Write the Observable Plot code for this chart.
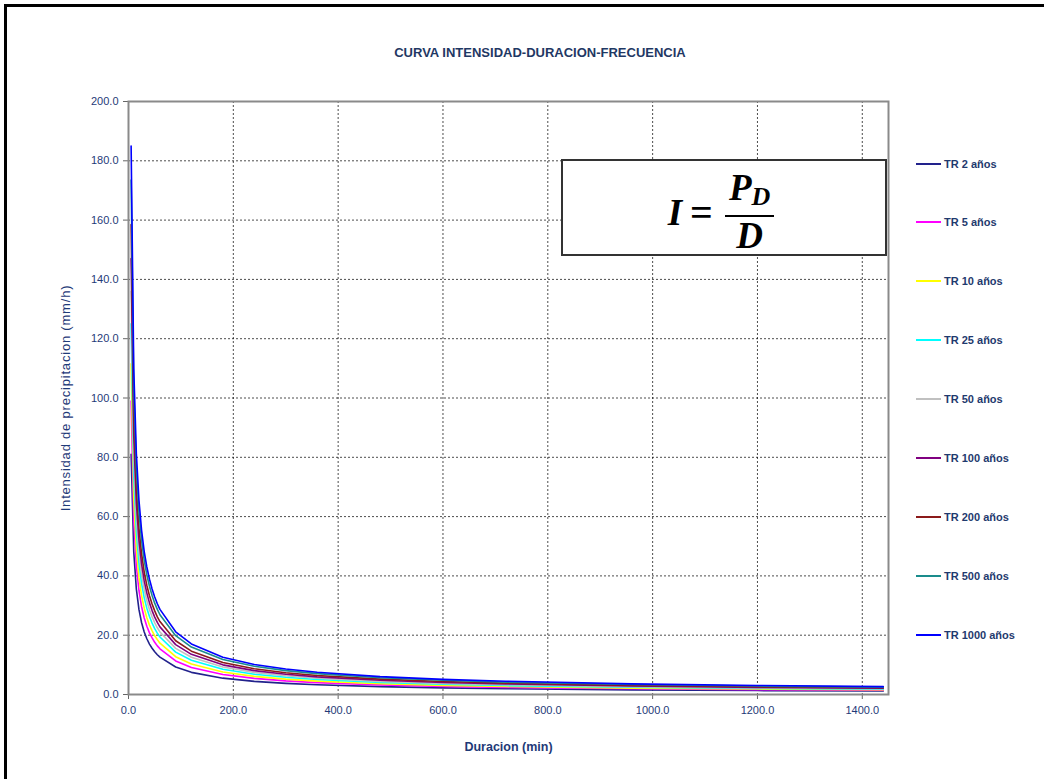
<!DOCTYPE html>
<html>
<head>
<meta charset="utf-8">
<script src="https://cdn.jsdelivr.net/npm/d3@7"></script>
<script src="https://cdn.jsdelivr.net/npm/@observablehq/plot@0.6"></script>
<style>
  html, body { margin: 0; padding: 0; background: #fff; }
  #wrap { position: relative; width: 1044px; height: 779px; overflow: hidden; font-family: "Liberation Sans", Arial, sans-serif; }
  #outer { position: absolute; left: 4px; top: 4px; width: 1100px; height: 820px; border-top: 3px solid #000; border-left: 3px solid #000; box-sizing: border-box; }
  #title { position: absolute; left: 0; width: 1080px; top: 45px; text-align: center; font-weight: bold; font-size: 13px; color: #1f3864; }
  #legend { position: absolute; left: 916px; top: 0; }
  .li { position: absolute; left: 0; white-space: nowrap; display: flex; align-items: center; font-weight: bold; font-size: 11px; color: #1f3a6e; }
  .li span.sw { display: inline-block; width: 25px; height: 2px; margin-right: 3px; }
  #formula { position: absolute; left: 561px; top: 159px; width: 326px; height: 97px; border: 2px solid #333; box-sizing: border-box; background: #fff;
     display: flex; align-items: center; justify-content: center; padding-top: 10px; padding-right: 6px;
     font-family: "Liberation Serif", "DejaVu Serif", serif; font-weight: bold; font-style: italic; font-size: 37px; color: #000; }
  #formula .frac { display: inline-flex; flex-direction: column; align-items: center; margin-left: 6px; }
  #formula .num { border-bottom: 2.5px solid #000; padding: 0 4px 0 4px; line-height: 36px; }
  #formula .den { line-height: 38px; }
  #formula sub { font-size: 26px; vertical-align: -5px; }
  #formula .eq { font-style: normal; font-size: 40px; margin: 0 6px 0 8px; }
  svg [aria-label="x-axis label"] text { font-weight: bold; font-size: 12.5px; }
  svg [aria-label="y-axis label"] text { font-size: 13px; letter-spacing: 0.8px; }
</style>
</head>
<body>
<div id="wrap">
  <div id="outer"></div>
  <div id="chart" style="position:absolute;left:0;top:0;"></div>
  <div id="title">CURVA INTENSIDAD-DURACION-FRECUENCIA</div>
  <div id="formula"><span>I</span><span class="eq">=</span><span class="frac"><span class="num">P<sub>D</sub></span><span class="den">D</span></span></div>
  <div id="legend"></div>
</div>
<script>
// Duration (min)
const durations = [5, 10, 15, 20, 25, 30, 35, 40, 45, 50, 55, 60, 90, 120, 180, 240, 300, 360, 480, 600, 720, 960, 1200, 1440];
const seriesNames = ["TR 2 años", "TR 5 años", "TR 10 años", "TR 25 años", "TR 50 años", "TR 100 años", "TR 200 años", "TR 500 años", "TR 1000 años"];
const seriesColors = ["#22228c", "#ff00ff", "#ffff00", "#00ffff", "#c0c0c0", "#800080", "#8b1a1a", "#1a8c8c", "#0000ff"];
// Intensity (mm/h)
const tr2    = [81.0, 48.2, 35.5, 28.6, 24.2, 21.1, 18.8, 17.0, 15.6, 14.4, 13.4, 12.6, 9.27, 7.47, 5.51, 4.44, 3.76, 3.28, 2.64, 2.24, 1.95, 1.57, 1.33, 1.16];
const tr5    = [99.0, 58.9, 43.4, 35.0, 29.6, 25.8, 23.0, 20.8, 19.1, 17.6, 16.4, 15.4, 11.33, 9.13, 6.73, 5.43, 4.59, 4.01, 3.23, 2.73, 2.39, 1.92, 1.62, 1.42];
const tr10   = [111.5, 66.3, 48.9, 39.4, 33.3, 29.1, 25.9, 23.4, 21.5, 19.8, 18.5, 17.3, 12.76, 10.28, 7.58, 6.11, 5.17, 4.52, 3.63, 3.08, 2.69, 2.16, 1.83, 1.59];
const tr25   = [125.0, 74.3, 54.8, 44.2, 37.4, 32.6, 29.1, 26.3, 24.1, 22.2, 20.7, 19.4, 14.30, 11.53, 8.50, 6.85, 5.80, 5.06, 4.08, 3.45, 3.01, 2.43, 2.05, 1.79];
const tr50   = [136.0, 80.9, 59.7, 48.1, 40.7, 35.5, 31.6, 28.6, 26.2, 24.2, 22.5, 21.1, 15.56, 12.54, 9.25, 7.45, 6.31, 5.51, 4.43, 3.75, 3.28, 2.64, 2.23, 1.94];
const tr100  = [147.0, 87.4, 64.5, 52.0, 44.0, 38.3, 34.2, 30.9, 28.3, 26.1, 24.3, 22.8, 16.82, 13.55, 10.00, 8.06, 6.82, 5.95, 4.79, 4.06, 3.54, 2.85, 2.41, 2.10];
const tr200  = [158.5, 94.2, 69.5, 56.0, 47.4, 41.3, 36.8, 33.3, 30.5, 28.2, 26.2, 24.6, 18.13, 14.61, 10.78, 8.69, 7.35, 6.42, 5.17, 4.37, 3.82, 3.07, 2.60, 2.27];
const tr500  = [173.5, 103.2, 76.1, 61.3, 51.9, 45.2, 40.3, 36.5, 33.4, 30.8, 28.7, 26.9, 19.85, 16.0, 11.8, 9.51, 8.05, 7.03, 5.66, 4.79, 4.18, 3.37, 2.85, 2.48];
const tr1000 = [185.0, 110.0, 81.2, 65.4, 55.3, 48.2, 43.0, 38.9, 35.6, 32.9, 30.6, 28.7, 21.16, 17.06, 12.58, 10.14, 8.58, 7.49, 6.03, 5.11, 4.46, 3.59, 3.03, 2.65];
const xTicks = [0, 200, 400, 600, 800, 1000, 1200, 1400];
const yTicks = [0, 20, 40, 60, 80, 100, 120, 140, 160, 180, 200];

const allSeries = [tr2, tr5, tr10, tr25, tr50, tr100, tr200, tr500, tr1000];
const rows = [];
allSeries.forEach((vals, k) => vals.forEach((v, j) => rows.push({serie: seriesNames[k], d: durations[j], i: v})));

const fmt = d => d.toFixed(1);
const textColor = "#1f3a78";

const chart = Plot.plot({
  width: 1044, height: 779,
  marginLeft: 128, marginRight: 156, marginTop: 101, marginBottom: 85,
  style: {fontFamily: "'Liberation Sans', Arial, sans-serif", fontSize: "11px", color: textColor, background: "transparent"},
  x: {domain: [0, 1450]},
  y: {domain: [0, 200]},
  color: {domain: seriesNames, range: seriesColors},
  marks: [
    Plot.gridX(xTicks.filter(t => t > 0), {stroke: "#000", strokeOpacity: 0.7, strokeDasharray: "2,2"}),
    Plot.gridY(yTicks.filter(t => t > 0 && t < 200), {stroke: "#000", strokeOpacity: 0.7, strokeDasharray: "2,2"}),
    Plot.axisX({ticks: xTicks, tickFormat: fmt, tickSize: 5, tickPadding: 7, stroke: "#666", fill: textColor, fontSize: 11,
      label: "Duracion (min)", labelAnchor: "center", labelArrow: "none", labelOffset: 56}),
    Plot.axisY({ticks: yTicks, tickFormat: fmt, tickSize: 5, tickPadding: 5, stroke: "#666", fill: textColor, fontSize: 11,
      label: "Intensidad de precipitacion (mm/h)", labelAnchor: "center", labelArrow: "none", labelOffset: 68}),
    Plot.line(rows, {x: "d", y: "i", z: "serie", stroke: "serie", strokeWidth: 1.6}),
    Plot.frame({stroke: "#8a8a8a", strokeWidth: 2})
  ]
});
document.getElementById("chart").appendChild(chart);

const legendTops = [165, 223, 282, 341, 400, 459, 518, 577, 636];
const lg = document.getElementById("legend");
seriesNames.forEach((name, k) => {
  const el = document.createElement("div");
  el.className = "li";
  el.style.top = (legendTops[k] - 7) + "px";
  el.innerHTML = `<span class="sw" style="background:${seriesColors[k]}"></span><span>${name}</span>`;
  lg.appendChild(el);
});
</script>
</body>
</html>
